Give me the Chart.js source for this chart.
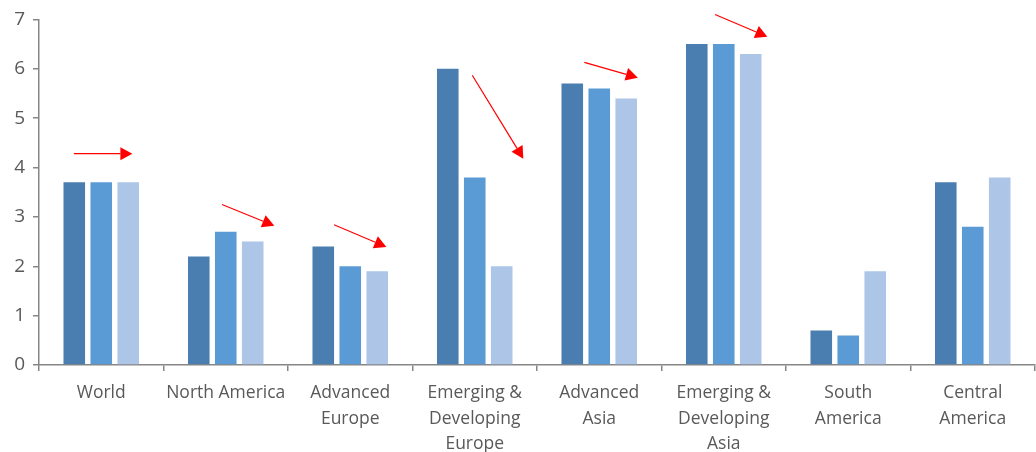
<!DOCTYPE html>
<html>
<head>
<meta charset="utf-8">
<script src="https://cdn.jsdelivr.net/npm/chart.js@4/dist/chart.umd.min.js"></script>
<style>
  html, body { margin: 0; padding: 0; background: #fff; }
  #wrap { width: 1036px; height: 452px; }
</style>
</head>
<body>
<div id="wrap"><canvas id="growthChart"></canvas></div>
<script>
/**
 * Data
 */
const categories = [
    'World',
    'North America',
    ['Advanced', 'Europe'],
    ['Emerging &', 'Developing', 'Europe'],
    ['Advanced', 'Asia'],
    ['Emerging &', 'Developing', 'Asia'],
    ['South', 'America'],
    ['Central', 'America'],
];
const series1 = [3.7, 2.2, 2.4, 6.0, 5.7, 6.5, 0.7, 3.7];
const series2 = [3.7, 2.7, 2.0, 3.8, 5.6, 6.5, 0.6, 2.8];
const series3 = [3.7, 2.5, 1.9, 2.0, 5.4, 6.3, 1.9, 3.8];
const yTicks = [0, 1, 2, 3, 4, 5, 6, 7];

// arrows in data units: [x from, y from, x to, y to] (x = category index)
const arrows = [
    [-0.22, 4.28, 0.25, 4.28],
    [0.97, 3.25, 1.39, 2.82],
    [1.87, 2.84, 2.29, 2.39],
    [2.98, 5.87, 3.39, 4.18],
    [3.88, 6.13, 4.31, 5.82],
    [4.93, 7.10, 5.35, 6.65],
];

const COLOR_1 = '#4a7eb0';
const COLOR_2 = '#5b9bd5';
const COLOR_3 = '#adc6e7';
const AXIS_COLOR = '#868686';
const TEXT_COLOR = '#595959';

//////////////////////////////////////////////////////////////////

/**
 * Red arrow annotations
 */
const arrowPlugin = {
    id: 'arrowPlugin',
    afterDatasetsDraw(chart) {
        const ctx = chart.ctx;
        const xs = chart.scales.x;
        const ys = chart.scales.y;
        ctx.save();
        ctx.strokeStyle = '#ff0000';
        ctx.fillStyle = '#ff0000';
        ctx.lineWidth = 1.2;
        arrows.forEach(function (a) {
            const x1 = xs.getPixelForValue(a[0]);
            const y1 = ys.getPixelForValue(a[1]);
            const x2 = xs.getPixelForValue(a[2]);
            const y2 = ys.getPixelForValue(a[3]);
            const ang = Math.atan2(y2 - y1, x2 - x1);
            const headLen = 12;
            const headW = 6.5;
            const bx = x2 - headLen * Math.cos(ang);
            const by = y2 - headLen * Math.sin(ang);
            ctx.beginPath();
            ctx.moveTo(x1, y1);
            ctx.lineTo(bx, by);
            ctx.stroke();
            ctx.beginPath();
            ctx.moveTo(x2, y2);
            ctx.lineTo(bx + headW * Math.sin(ang), by - headW * Math.cos(ang));
            ctx.lineTo(bx - headW * Math.sin(ang), by + headW * Math.cos(ang));
            ctx.closePath();
            ctx.fill();
        });
        ctx.restore();
    }
};

function makeDataset(label, values, color) {
    return {
        label: label,
        data: values,
        backgroundColor: color,
        borderWidth: 0,
        categoryPercentage: 0.65,
        barPercentage: 0.8,
    };
}

function loadChart(id) {
    const data = {
        labels: categories,
        datasets: [
            makeDataset('S1', series1, COLOR_1),
            makeDataset('S2', series2, COLOR_2),
            makeDataset('S3', series3, COLOR_3),
        ]
    };
    const config = {
        type: 'bar',
        data: data,
        options: {
            responsive: true,
            maintainAspectRatio: false,
            animation: false,
            layout: { padding: { top: 13, right: 1, left: 0, bottom: 0 } },
            plugins: {
                legend: { display: false },
                tooltip: { enabled: false },
            },
            scales: {
                x: {
                    grid: {
                        offset: true,
                        drawOnChartArea: false,
                        drawTicks: true,
                        tickLength: 6,
                        color: AXIS_COLOR,
                        lineWidth: 1.5,
                    },
                    border: { color: AXIS_COLOR, width: 1.5 },
                    ticks: {
                        color: TEXT_COLOR,
                        font: { family: 'Open Sans', size: 17.5, lineHeight: 1.43 },
                        padding: 10,
                        maxRotation: 0,
                        autoSkip: false,
                    },
                    afterFit(scale) { scale.height = 87; },
                },
                y: {
                    min: 0,
                    max: 7,
                    afterBuildTicks(scale) {
                        scale.ticks = yTicks.map(v => ({ value: v }));
                    },
                    grid: {
                        drawOnChartArea: false,
                        drawTicks: true,
                        tickLength: 6,
                        color: AXIS_COLOR,
                        lineWidth: 1.5,
                    },
                    border: { color: AXIS_COLOR, width: 1.5 },
                    ticks: {
                        color: TEXT_COLOR,
                        font: { family: 'Open Sans', size: 19 },
                        padding: 8,
                    },
                    afterFit(scale) { scale.width = 39; },
                }
            }
        },
        plugins: [arrowPlugin],
    };
    new Chart(document.getElementById(id), config);
}

loadChart('growthChart');
</script>
</body>
</html>
